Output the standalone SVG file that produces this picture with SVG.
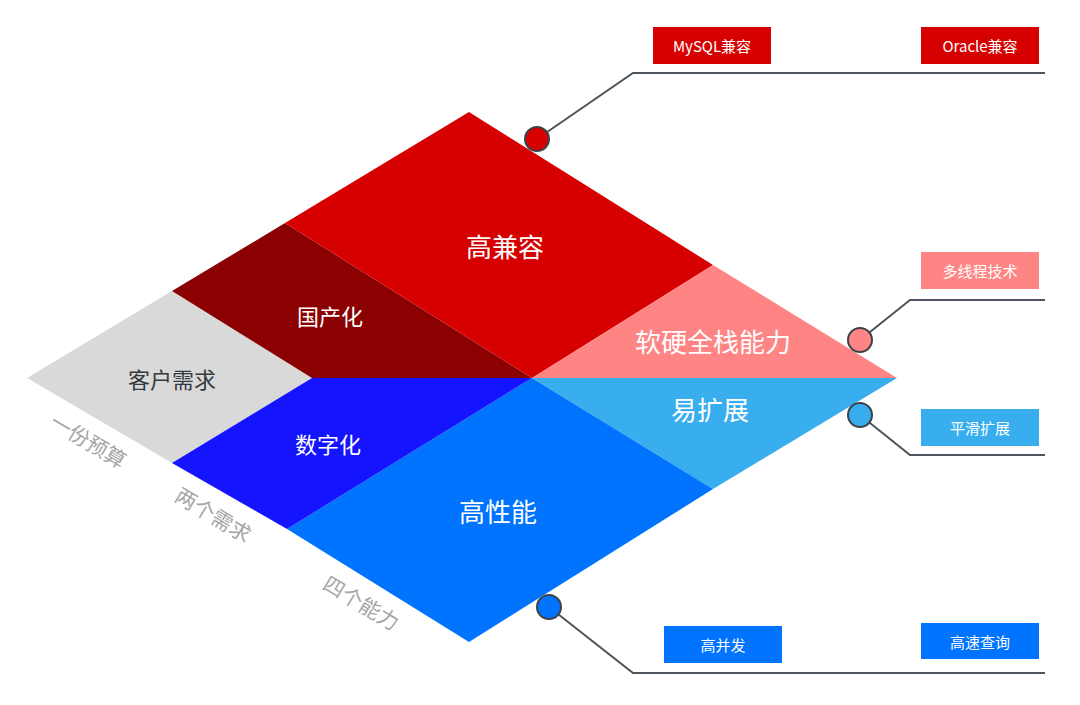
<svg xmlns="http://www.w3.org/2000/svg" width="1080" height="705" viewBox="0 0 1080 705">
<style>
.t{font-family:"Noto Sans CJK SC","Liberation Sans",sans-serif;text-anchor:middle;dominant-baseline:central}
.w{fill:#ffffff}
.big{font-size:26px}
.mid{font-size:22px}
.lab{font-size:15px;fill:#ffffff}
.side{font-size:21px;fill:#a6a6a6}
.conn{fill:none;stroke:#4d545b;stroke-width:2}
.dot{stroke:#3d4248;stroke-width:2}
</style>
<rect width="1080" height="705" fill="#ffffff"/>
<g id="diamond">
<g id="node-kehu"><polygon points="27,378 172,291 312,378 172,463" fill="#d9d9d9"/><text class="t mid" x="172" y="378" fill="#333a40">客户需求</text></g>
<g id="node-guochan"><polygon points="172,291 285,223 532,378 312,378" fill="#8b0000"/><text class="t mid w" x="330" y="315">国产化</text></g>
<g id="node-gaojianrong"><polygon points="285,223 469,112 713,265 532,378" fill="#d70000"/><text class="t big w" x="505" y="245">高兼容</text></g>
<g id="node-ruanying"><polygon points="532,378 713,265 897,378" fill="#ff8585"/><text class="t big w" x="713" y="340">软硬全栈能力</text></g>
<g id="node-yikuozhan"><polygon points="532,378 897,378 713,489" fill="#39aeee"/><text class="t big w" x="710" y="408">易扩展</text></g>
<g id="node-gaoxingneng"><polygon points="532,378 713,489 469,642 287,529" fill="#0073ff"/><text class="t big w" x="498" y="510">高性能</text></g>
<g id="node-shuzihua"><polygon points="312,378 532,378 287,529 172,463" fill="#1414ff"/><text class="t mid w" x="328" y="443">数字化</text></g>
</g>
<g id="side-labels">
<text class="t side" x="89" y="440" transform="rotate(31 89 440)">一份预算</text>
<text class="t side" x="214" y="514" transform="rotate(31 214 514)">两个需求</text>
<text class="t side" x="362" y="602" transform="rotate(31 362 602)">四个能力</text>
</g>
<g id="connectors">
<polyline class="conn" points="537,139 633,73 1045,73"/>
<polyline class="conn" points="860,340 910,300 1045,300"/>
<polyline class="conn" points="860,415 910,455 1045,455"/>
<polyline class="conn" points="549,607 633,673 1045,673"/>
<circle class="dot" cx="537" cy="139" r="12" fill="#d70000"/>
<circle class="dot" cx="860" cy="340" r="12" fill="#ff8585"/>
<circle class="dot" cx="860" cy="415" r="12" fill="#39aeee"/>
<circle class="dot" cx="549" cy="607" r="12" fill="#0073ff"/>
</g>
<g id="node-mysql"><rect x="653" y="27" width="118" height="37" fill="#d70000"/><text class="t lab" x="712" y="45.5">MySQL兼容</text></g>
<g id="node-oracle"><rect x="921" y="27" width="118" height="37" fill="#d70000"/><text class="t lab" x="980" y="45.5">Oracle兼容</text></g>
<g id="node-duoxiancheng"><rect x="921" y="252" width="118" height="37" fill="#ff8585"/><text class="t lab" x="980" y="270.5">多线程技术</text></g>
<g id="node-pinghua"><rect x="921" y="409" width="118" height="37" fill="#39aeee"/><text class="t lab" x="980" y="427.5">平滑扩展</text></g>
<g id="node-gaobingfa"><rect x="664" y="626" width="118" height="37" fill="#0073ff"/><text class="t lab" x="723" y="644.5">高并发</text></g>
<g id="node-gaosu"><rect x="921" y="623" width="118" height="36" fill="#0073ff"/><text class="t lab" x="980" y="641">高速查询</text></g>
</svg>
